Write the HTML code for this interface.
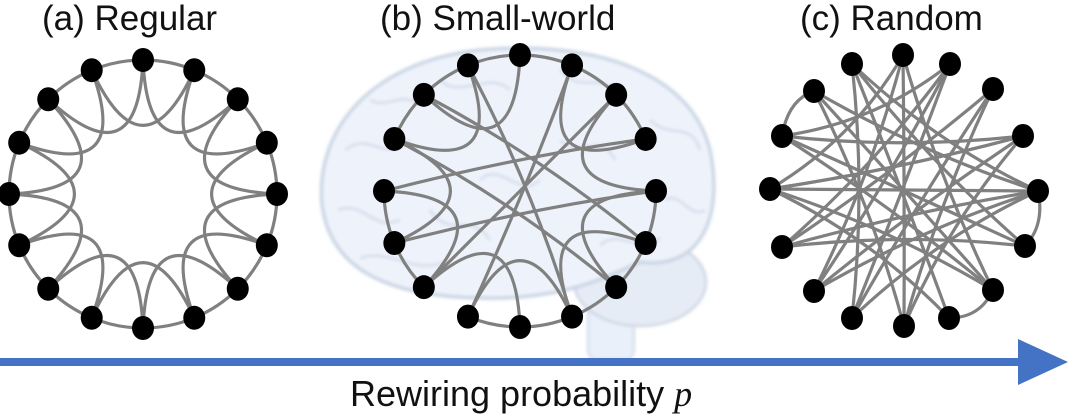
<!DOCTYPE html>
<html><head><meta charset="utf-8"><style>
html,body{margin:0;padding:0;background:#fff;width:1072px;height:420px;overflow:hidden}
svg{display:block}
text{font-family:"Liberation Sans",sans-serif;fill:#111}
</style></head><body>
<svg id="s" width="1072" height="420" viewBox="0 0 1072 420" xmlns="http://www.w3.org/2000/svg">
<defs><filter id="bl"><feGaussianBlur stdDeviation="1.5"/></filter></defs>
<g filter="url(#bl)">
<rect x="588" y="290" width="46" height="70" rx="10" fill="#eaf0f9" stroke="#cfd9e8" stroke-width="2"/>
<ellipse cx="640" cy="282" rx="66" ry="44" fill="#e6ecf5" stroke="#c4cfdf" stroke-width="2"/>
<path d="M322,205 C315,130 370,62 480,50 C590,40 690,70 710,150 C725,225 695,270 640,262 C600,280 560,300 480,298 C380,296 330,265 322,205 Z" fill="#eef3fb" stroke="#c3cfe1" stroke-width="3"/>
<g stroke="#d2dbea" stroke-width="2.5" fill="none">
<path d="M345,150 C370,130 385,165 410,140"/><path d="M338,210 C365,200 372,232 400,220"/>
<path d="M360,258 C392,248 412,275 445,262"/><path d="M440,80 C460,100 490,70 510,90"/>
<path d="M560,70 C580,95 600,70 620,95"/><path d="M650,120 C670,140 690,120 700,150"/>
<path d="M665,200 C680,190 690,220 705,210"/><path d="M600,245 C620,228 640,255 660,238"/>
<path d="M480,180 C500,160 520,200 540,180"/><path d="M430,210 C450,240 470,210 490,240"/>
<path d="M370,100 C390,110 400,90 420,105"/><path d="M560,140 C580,160 600,130 615,160"/>
</g>
</g>
<g id="edges" stroke="#808080" stroke-width="3.2" fill="none" stroke-linecap="round"></g>
<g id="nodes" fill="#000"></g>
<text x="42" y="30" font-size="35">(a) Regular</text>
<text x="380" y="30" font-size="35">(b) Small-world</text>
<text x="800" y="30" font-size="35">(c) Random</text>
<rect x="0" y="358" width="1025" height="8" fill="#4472c4"/>
<polygon points="1018,339 1068,362 1018,385" fill="#4472c4"/>
<text x="350" y="406" font-size="36">Rewiring probability <tspan font-family="Liberation Serif" font-style="italic">p</tspan></text>
</svg>
<script>
var E=document.getElementById('edges'),N=document.getElementById('nodes');
function P(d){var p=document.createElementNS('http://www.w3.org/2000/svg','path');p.setAttribute('d',d);E.appendChild(p);}
function C(x,y){var c=document.createElementNS('http://www.w3.org/2000/svg','ellipse');c.setAttribute('cx',x);c.setAttribute('cy',y);c.setAttribute('rx',11);c.setAttribute('ry',12);N.appendChild(c);}
function ring(cx,cy,r){var a=[];for(var k=0;k<16;k++){var t=k*Math.PI/8;a.push([cx+r*Math.sin(t),cy-r*Math.cos(t)]);}return a;}
function arc(cx,cy,r,i,j,n){P('M'+n[i][0]+','+n[i][1]+' A'+r+','+r+' 0 0 1 '+n[j][0]+','+n[j][1]);}
function sec(cx,cy,r,n,i){var j=(i+1)%16,k=(i+2)%16,t=j*Math.PI/8,q=0.1*r;
P('M'+n[i][0]+','+n[i][1]+' Q'+(cx+q*Math.sin(t))+','+(cy-q*Math.cos(t))+' '+n[k][0]+','+n[k][1]);}
var cx=143,cy=194,r=134,n=ring(cx,cy,r);
for(var i=0;i<16;i++){arc(cx,cy,r,i,(i+1)%16,n);sec(cx,cy,r,n,i);}
n.forEach(function(p){C(p[0],p[1]);});
var sx=520,sy=191,sr=136,m=ring(sx,sy,sr);
var skipA={3:1,9:1,12:1};
for(var i=0;i<16;i++){if(!skipA[i])arc(sx,sy,sr,i,(i+1)%16,m);}
[0,1,2,4,5,7,8,10,11,13,14,15].forEach(function(i){if(i%3!=0)sec(sx,sy,sr,m,i);});
[[14,5],[13,6],[2,10],[15,7],[1,9],[12,3],[11,4]].forEach(function(e){var a=m[e[0]],b=m[e[1]];
P('M'+a[0]+','+a[1]+' Q'+((a[0]+b[0])/2+10)+','+((a[1]+b[1])/2-10)+' '+b[0]+','+b[1]);});
m.forEach(function(p){C(p[0],p[1]);});
var R=[[903,55],[950,64],[993,89],[1023,136],[1038,191],[1025,246],[993,290],[949,318],[904,326],[852,318],[814,291],[782,247],[770,189],[782,136],[814,91],[852,64]];
P('M782,136 Q788,100 814,91');P('M1038,191 Q1045,225 1025,246');P('M949,318 Q980,318 993,290');
[[0,8],[0,10],[0,6],[15,5],[15,7],[15,9],[1,10],[1,11],[14,6],[14,4],[13,3],[13,5],[12,3],[12,4],[11,2],[11,4],[10,3],[9,1],[9,4],[8,3],[8,14],[7,12],[6,13],[5,11],[3,12],[2,9],[0,12],[1,13],[15,4],[4,10],[6,12],[8,2]].forEach(function(e){var a=R[e[0]],b=R[e[1]];
P('M'+a[0]+','+a[1]+' Q'+((a[0]+b[0])/2+(908-(a[0]+b[0])/2)*0.25)+','+((a[1]+b[1])/2+(190-(a[1]+b[1])/2)*0.25)+' '+b[0]+','+b[1]);});
R.forEach(function(p){C(p[0],p[1]);});
</script>
</body></html>
